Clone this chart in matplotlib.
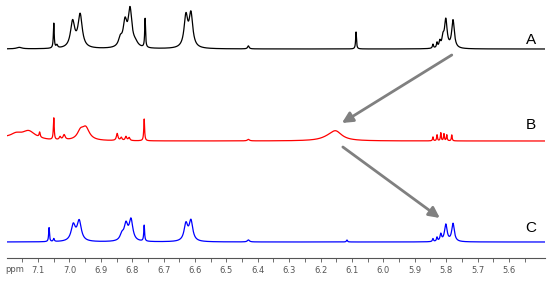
import numpy as np
import matplotlib.pyplot as plt

# chemical shift axis (ppm) shown in the figure
x_left, x_right = 7.199, 5.485
tick_values = [7.1, 7.0, 6.9, 6.8, 6.7, 6.6, 6.5, 6.4, 6.3, 6.2, 6.1, 6.0, 5.9, 5.8, 5.7, 5.6]

# peaks: (ppm, height, half width)
peaks_a = [(7.16, 1.5, 0.01), (7.05, 25, 0.0016), (7.04, 3, 0.003),
           (6.99, 26, 0.008), (6.966, 33, 0.008),
           (6.838, 8, 0.007), (6.823, 24, 0.007), (6.807, 37, 0.007), (6.79, 4, 0.01),
           (6.759, 29, 0.0016),
           (6.629, 31, 0.007), (6.613, 33, 0.007),
           (6.43, 3, 0.003), (6.087, 17, 0.0016),
           (5.842, 4, 0.002), (5.829, 5, 0.002), (5.82, 6, 0.003), (5.81, 9, 0.004),
           (5.801, 28, 0.005), (5.778, 28, 0.005)]
peaks_b = [(7.17, 4, 0.02), (7.13, 8, 0.025), (7.095, 5, 0.002), (7.05, 22, 0.0016),
           (7.03, 3, 0.003), (7.017, 5, 0.004),
           (6.965, 8, 0.012), (6.948, 12, 0.014),
           (6.848, 7, 0.003), (6.835, 3, 0.003), (6.82, 4, 0.003), (6.81, 3, 0.003),
           (6.762, 22, 0.0016), (6.43, 1.5, 0.004),
           (6.152, 9, 0.024), (6.175, 2, 0.03),
           (5.842, 4, 0.0015), (5.829, 6, 0.0015), (5.817, 8, 0.0015),
           (5.807, 7, 0.0015), (5.798, 6, 0.0015), (5.782, 6, 0.0015)]
peaks_c = [(7.065, 14, 0.0016), (7.05, 3, 0.002),
           (6.988, 16, 0.008), (6.969, 20, 0.008),
           (6.833, 6, 0.007), (6.82, 16, 0.007), (6.804, 21, 0.007),
           (6.762, 16, 0.0016),
           (6.629, 17, 0.007), (6.613, 20, 0.007),
           (6.43, 2, 0.004), (6.116, 2, 0.002),
           (5.842, 3, 0.002), (5.829, 4, 0.002), (5.817, 7, 0.003),
           (5.801, 17, 0.005), (5.778, 18, 0.005)]

offsets = {'A': 209, 'B': 117, 'C': 16}
colors = {'A': 'black', 'B': 'red', 'C': 'blue'}
label_y = {'A': 218, 'B': 133, 'C': 30}


def spectrum(ppm, peaks):
    y = np.zeros_like(ppm)
    for c, h, w in peaks:
        y += h / (1 + ((ppm - c) / w) ** 2)
    return y


ppm = np.linspace(x_left, x_right, 6000)

fig = plt.figure(figsize=(5.5, 2.81), dpi=100)
ax = fig.add_axes([7 / 550, 23 / 281, 538 / 550, 258 / 281])

for name, peaks in [('A', peaks_a), ('B', peaks_b), ('C', peaks_c)]:
    y = spectrum(ppm, peaks) + offsets[name]
    if name == 'B':
        # left end of trace B sits slightly higher
        y += 3 * np.clip((ppm - 7.05) / 0.15, 0, 1)
    ax.plot(ppm, y, color=colors[name], lw=0.9)
    ax.text(5.53, label_y[name], name, fontsize=11, ha='center', va='center',
            family='Liberation Sans')

# arrows
arrow = dict(arrowstyle='-|>', color='#808080', lw=2, mutation_scale=16,
             shrinkA=0, shrinkB=0)
ax.annotate('', xy=(6.132, 135), xytext=(5.782, 203), arrowprops=arrow)
ax.annotate('', xy=(5.82, 40), xytext=(6.129, 111), arrowprops=arrow)

ax.set_xlim(x_left, x_right)
ax.set_ylim(0, 258)
for s in ['top', 'left', 'right']:
    ax.spines[s].set_visible(False)
ax.spines['bottom'].set_color('#555555')
ax.spines['bottom'].set_linewidth(0.8)
ax.set_yticks([])
ax.set_xticks(tick_values)
ax.set_xticklabels([f'{v:.1f}' for v in tick_values])
ax.set_xticks(np.arange(5.55, 7.2, 0.1), minor=True)
ax.tick_params(axis='x', which='both', direction='out', length=3, width=0.6,
               colors='#555555', labelsize=6, pad=3)
ax.text(7.173, -12, 'ppm', fontsize=6, color='#555555', ha='center', va='center')

fig.savefig('out.png', dpi=100)
